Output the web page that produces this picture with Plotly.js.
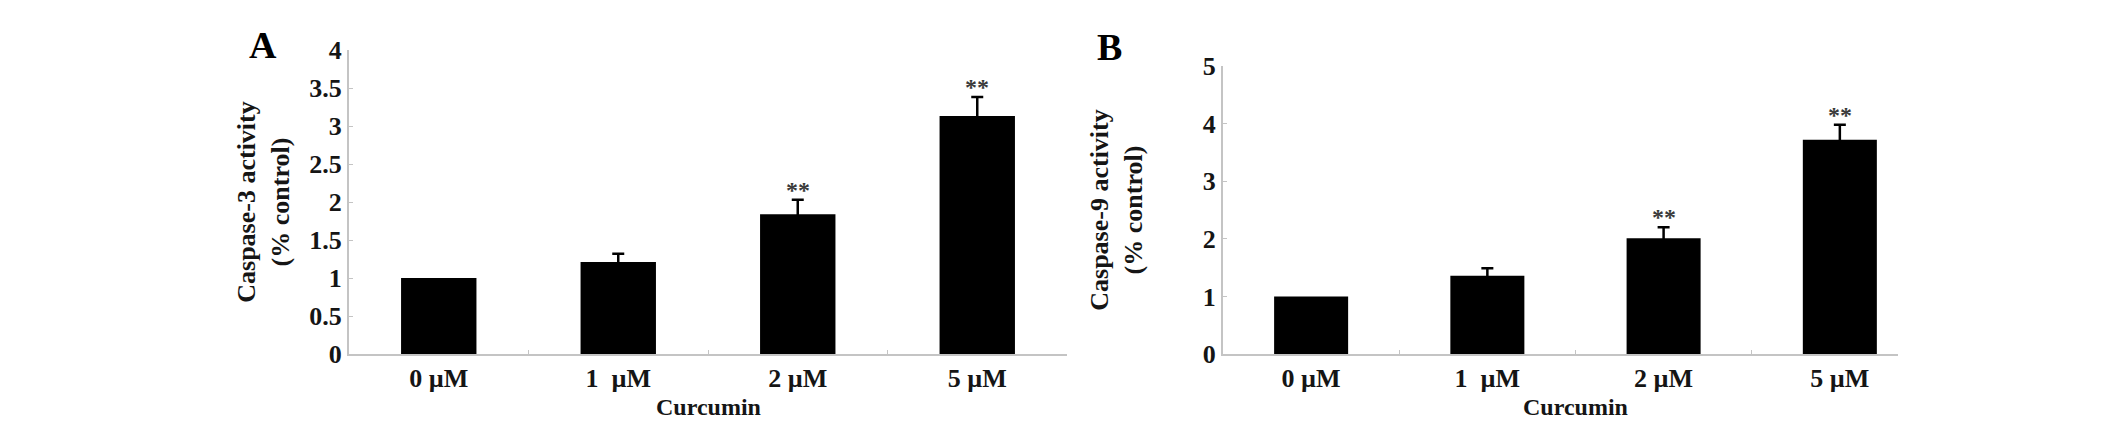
<!DOCTYPE html>
<html><head><meta charset="utf-8">
<script src="https://cdn.plot.ly/plotly-3.0.1.min.js"></script>
<style>html,body{margin:0;padding:0;background:#fff}</style>
</head><body><div id="chart" style="width:2126px;height:428px"></div>
<script>
const categories = ['0 µM', '1 µM', '2 µM', '5 µM'];
const tickLabels = ['0 µM', '1\u00a0 µM', '2 µM', '5 µM'];
const caspase3 = [1.0, 1.21, 1.84, 3.13];
const caspase3Err = [NaN, 0.11, 0.19, 0.25];
const caspase9 = [1.0, 1.36, 2.01, 3.72];
const caspase9Err = [NaN, 0.13, 0.19, 0.26];
const sig3 = ['', '', '**', '**'];
const sig9 = ['', '', '**', '**'];
const panelLetters = ['A', 'B'];
const yTitles = ['Caspase-3 activity<br>(% control)', 'Caspase-9 activity<br>(% control)'];
const xTitle = 'Curcumin';

const FONT = 'Times New Roman, Liberation Serif, serif';
const AXIS_GREY = '#c4c4c4';
const TXT = '#151515';

function barTrace(vals, errs, xa, ya) {
  return {
    type: 'bar', x: categories, y: vals, xaxis: xa, yaxis: ya,
    width: 0.42, marker: {color: '#000', line: {width: 0}},
    error_y: {type: 'data', array: errs, symmetric: true, color: '#000', thickness: 2.5, width: 6},
    hoverinfo: 'skip', showlegend: false
  };
}

const data = [
  barTrace(caspase3, caspase3Err, 'x', 'y'),
  barTrace(caspase9, caspase9Err, 'x2', 'y2')
];

function xAxis(domain, range, anchor) {
  return {
    domain: domain, range: range, anchor: anchor, type: 'category',
    tickvals: categories, ticktext: tickLabels,
    showline: true, linecolor: AXIS_GREY, linewidth: 2,
    ticks: 'inside', tickson: 'boundaries', ticklen: 4, tickcolor: AXIS_GREY, tickwidth: 1,
    tickfont: {family: FONT, size: 26, color: TXT, weight: 'bold'},
    ticklabelstandoff: 0,
    showgrid: false, zeroline: false, automargin: false, fixedrange: true
  };
}
function yAxis(domain, range, dtick, anchor, title, standoff) {
  return {
    domain: domain, range: range, dtick: dtick, anchor: anchor,
    showline: true, linecolor: AXIS_GREY, linewidth: 2,
    ticks: 'inside', ticklen: 4, tickcolor: AXIS_GREY, tickwidth: 1,
    tickfont: {family: FONT, size: 26, color: TXT, weight: 'bold'},
    showgrid: false, zeroline: false, automargin: false, fixedrange: true,
    title: {text: title, standoff: standoff, font: {family: FONT, size: 26, color: TXT, weight: 'bold'}}
  };
}

const annotations = [];
function addStars(sig, vals, errs, xref, yref) {
  sig.forEach((s, i) => {
    if (!s) return;
    annotations.push({
      xref: xref, yref: yref, x: categories[i], y: vals[i] + (errs[i] || 0),
      text: s, showarrow: false, yanchor: 'bottom', yshift: -5,
      font: {family: FONT, size: 24, color: '#3a3a3a', weight: 'bold'}
    });
  });
}
addStars(sig3, caspase3, caspase3Err, 'x', 'y');
addStars(sig9, caspase9, caspase9Err, 'x2', 'y2');

annotations.push(
  {xref: 'paper', yref: 'paper', x: 263 / 2126, y: (428 - 45) / 428, text: panelLetters[0], showarrow: false,
   xanchor: 'center', yanchor: 'middle', font: {family: FONT, size: 38, color: '#000', weight: 'bold'}},
  {xref: 'paper', yref: 'paper', x: 1109 / 2126, y: (428 - 47) / 428, text: panelLetters[1], showarrow: false,
   xanchor: 'center', yanchor: 'middle', font: {family: FONT, size: 38, color: '#000', weight: 'bold'}},
  {xref: 'x', yref: 'paper', x: 1.5, y: (428 - 407) / 428, text: xTitle, showarrow: false,
   xanchor: 'center', yanchor: 'middle', font: {family: FONT, size: 24, color: TXT, weight: 'bold'}},
  {xref: 'x2', yref: 'paper', x: 1.5, y: (428 - 407) / 428, text: xTitle, showarrow: false,
   xanchor: 'center', yanchor: 'middle', font: {family: FONT, size: 24, color: TXT, weight: 'bold'}}
);

const layout = {
  width: 2126, height: 428,
  margin: {l: 0, r: 0, t: 0, b: 0},
  paper_bgcolor: '#fff', plot_bgcolor: '#fff',
  showlegend: false,
  xaxis: xAxis([349 / 2126, 1067 / 2126], [-0.5, 3.5], 'y'),
  yaxis: yAxis([(428 - 354) / 428, (428 - 50) / 428], [0, 4], 0.5, 'x', yTitles[0], 12),
  xaxis2: xAxis([1223 / 2126, 1898 / 2126], [-0.5, 3.33], 'y2'),
  yaxis2: yAxis([(428 - 354) / 428, (428 - 66) / 428], [0, 5], 1, 'x2', yTitles[1], 53),
  annotations: annotations
};

Plotly.newPlot('chart', data, layout, {displayModeBar: false, staticPlot: true});
</script>
</body></html>
